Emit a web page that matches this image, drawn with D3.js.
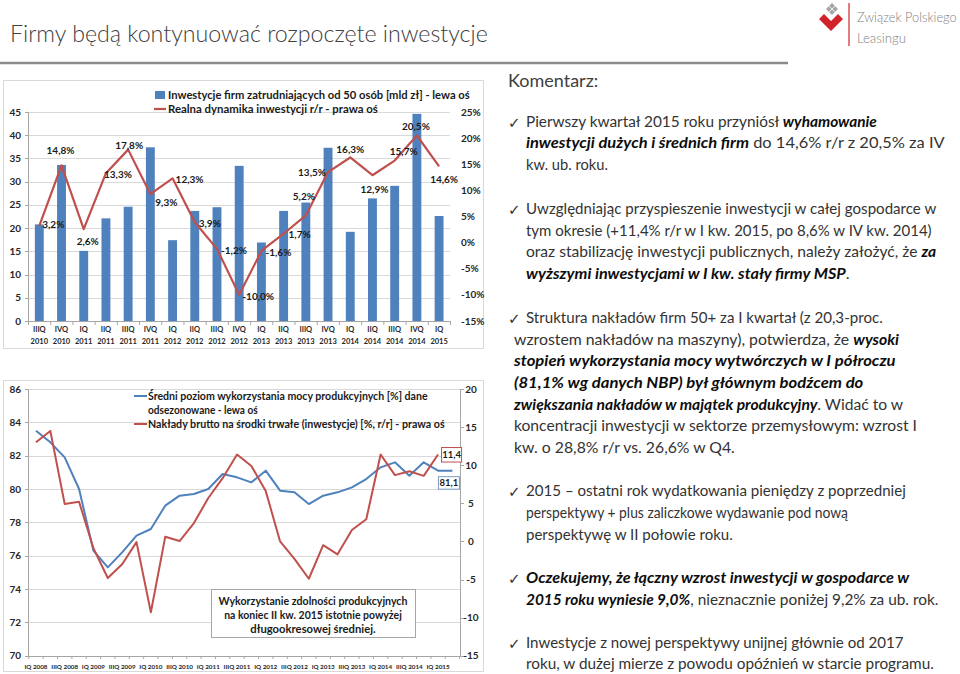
<!DOCTYPE html>
<html><head><meta charset="utf-8">
<script src="https://cdn.jsdelivr.net/npm/d3@7"></script>
<style>
html,body{margin:0;padding:0;background:#fff;}
svg{display:block;font-family:Lato,"Open Sans",sans-serif;}
</style></head><body>
<svg id="c" width="960" height="674"></svg>
<script>
// ---------- DATA ----------
const topCategories = ["IIIQ 2010","IVQ 2010","IQ 2011","IIQ 2011","IIIQ 2011","IVQ 2011","IQ 2012","IIQ 2012","IIIQ 2012","IVQ 2012","IQ 2013","IIQ 2013","IIIQ 2013","IVQ 2013","IQ 2014","IIQ 2014","IIIQ 2014","IVQ 2014","IQ 2015"];
const investments = [20.8,33.6,15.1,22.1,24.6,37.4,17.4,23.7,24.5,33.4,16.9,23.7,25.5,37.3,19.2,26.4,29.1,44.6,22.6];
const realGrowth = [3.2,14.8,2.6,13.3,17.8,9.3,12.3,3.9,-1.2,-10.0,-1.6,1.7,5.2,13.5,16.3,12.9,15.7,20.5,14.6];
const topLeftTicks = [0,5,10,15,20,25,30,35,40,45];
const topRightTicks = [-15,-10,-5,0,5,10,15,20,25];
const topLegend = ["Inwestycje firm zatrudniających od 50 osób [mld zł] - lewa oś","Realna dynamika inwestycji r/r - prawa oś"];

const bottomCategories = ["IQ 2008","IIQ 2008","IIIQ 2008","IVQ 2008","IQ 2009","IIQ 2009","IIIQ 2009","IVQ 2009","IQ 2010","IIQ 2010","IIIQ 2010","IVQ 2010","IQ 2011","IIQ 2011","IIIQ 2011","IVQ 2011","IQ 2012","IIQ 2012","IIIQ 2012","IVQ 2012","IQ 2013","IIQ 2013","IIIQ 2013","IVQ 2013","IQ 2014","IIQ 2014","IIIQ 2014","IVQ 2014","IQ 2015","IIQ 2015"];
const capacityUtil = [83.5,82.8,81.9,80.0,76.3,75.3,76.2,77.2,77.6,79.0,79.6,79.7,80.0,80.9,80.7,80.4,81.1,79.9,79.8,79.1,79.6,79.8,80.1,80.6,81.3,81.6,80.8,81.6,81.1,81.1];
const grossInvestment = [13.0,14.5,4.9,5.2,-0.9,-4.8,-3.0,-0.1,-9.3,0.6,0.05,2.4,5.7,8.3,11.4,9.9,6.6,0.0,-2.3,-4.9,-0.5,-1.7,1.5,2.9,11.4,8.7,9.2,8.6,11.4];
const bottomLeftTicks = [70,72,74,76,78,80,82,84,86];
const bottomRightTicks = [-15,-10,-5,0,5,10,15,20];
const bottomLegend = ["Średni poziom wykorzystania mocy produkcyjnych [%] dane","odsezonowane - lewa oś","Nakłady brutto na środki trwałe (inwestycje) [%, r/r] - prawa oś"];
const noteLines = ["Wykorzystanie zdolności produkcyjnych","na koniec II kw. 2015 istotnie powyżej","długookresowej średniej."];

// label placement (offset of label centre from its point), layout only
const growthLabelOffsets = [[14,-1],[-1,-15],[4,12],[12,1],[1,-4],[16,8],[17,1],[15,1],[17,2],[19,2],[17,2],[16,1],[-2,-19],[-16,0],[0,-8],[2,14],[9,-9],[-1,-9],[5,13]];

const BLUE = "#4F81BD", RED = "#C0504D", GRID = "#D9D9D9", AX = "#A6A6A6";
const svg = d3.select("#c");
const fmt = v => d3.format(".1f")(v).replace(".", ",").replace("−","-");

function fitX(sel, target, ax) {
  const w = sel.node().getBBox().width;
  if (!w) return;
  const k = target / w;
  sel.attr("transform", `translate(${ax},0) scale(${k},1) translate(${-ax},0)`);
}

// ---------- HEADER ----------
const title = svg.append("text").attr("x", 10).attr("y", 42).attr("font-size", 23)
  .attr("font-weight", 300).attr("fill", "#404040").text("Firmy będą kontynuować rozpoczęte inwestycje");
fitX(title, 478, 10);
svg.append("line").attr("x1", 0).attr("x2", 788).attr("y1", 63).attr("y2", 63).attr("stroke", "#8C8C8C").attr("stroke-width", 2.5);

// logo
const logo = svg.append("g");
logo.append("path").attr("d", "M832,3 L838,9 L832,15 L826,9 Z").attr("fill", "#A6A6A6");
logo.append("path").attr("d", "M829,6 L835,12 M835,6 L829,12").attr("stroke", "#fff").attr("stroke-width", 0.8);
logo.append("path").attr("d", "M819,19 L824,14 L831,21 L838,14 L843,19 L831,31 Z").attr("fill", "#D2232A");
logo.append("line").attr("x1", 849).attr("x2", 849).attr("y1", 3).attr("y2", 46).attr("stroke", "#D2232A").attr("stroke-width", 1.2);
const lg1 = logo.append("text").attr("x", 857).attr("y", 22).attr("font-size", 14).attr("font-weight", 300).attr("fill", "#808080").text("Związek Polskiego");
fitX(lg1, 100, 857);
const lg2 = logo.append("text").attr("x", 857).attr("y", 43).attr("font-size", 14).attr("font-weight", 300).attr("fill", "#808080").text("Leasingu");
fitX(lg2, 49, 857);

// ---------- TOP CHART ----------
svg.append("rect").attr("x", 3.5).attr("y", 80.5).attr("width", 480).attr("height", 268).attr("fill", "#fff").attr("stroke", GRID);
const xT = d3.scaleBand().domain(topCategories).range([28.2, 450.2]).paddingInner(0.6).paddingOuter(0.3);
const yL = d3.scaleLinear().domain([0, 45]).range([321, 112]);
const yR = d3.scaleLinear().domain([-15, 25]).range([321, 112]);
const cx = c => xT(c) + xT.bandwidth() / 2;
const gT = svg.append("g");
gT.selectAll(".gl").data(topLeftTicks.filter(t => t > 0)).join("line")
  .attr("x1", 28.5).attr("x2", 450).attr("y1", d => Math.round(yL(d)) + 0.5).attr("y2", d => Math.round(yL(d)) + 0.5)
  .attr("stroke", GRID);
gT.selectAll(".bar").data(investments).join("rect")
  .attr("x", (d, i) => xT(topCategories[i])).attr("width", xT.bandwidth())
  .attr("y", d => yL(d)).attr("height", d => yL(0) - yL(d)).attr("fill", BLUE);
// axes
gT.append("line").attr("x1", 28.5).attr("x2", 28.5).attr("y1", 112).attr("y2", 321).attr("stroke", AX);
gT.append("line").attr("x1", 28).attr("x2", 450.5).attr("y1", 321.5).attr("y2", 321.5).attr("stroke", AX);
gT.selectAll(".tk").data(d3.range(topCategories.length + 1)).join("line")
  .attr("x1", i => 28.2 + i * xT.step() + 0.3).attr("x2", i => 28.2 + i * xT.step() + 0.3)
  .attr("y1", 321).attr("y2", 325).attr("stroke", AX);
gT.selectAll(".ltk").data(topLeftTicks).join("line")
  .attr("x1", 25).attr("x2", 28.5).attr("y1", d => Math.round(yL(d)) + 0.5).attr("y2", d => Math.round(yL(d)) + 0.5).attr("stroke", AX);
gT.selectAll(".ll").data(topLeftTicks).join("text")
  .attr("x", 21).attr("y", d => yL(d) + 3.5).attr("text-anchor", "end").attr("font-size", 10).attr("font-weight", 700)
  .attr("fill", "#262626").text(d => d);
gT.selectAll(".rl").data(topRightTicks).join("text")
  .attr("x", 461).attr("y", d => yR(d) + 3.5).attr("font-size", 10).attr("font-weight", 700)
  .attr("fill", "#262626").text(d => d + "%");
const xl = gT.selectAll(".xl").data(topCategories).join("text")
  .attr("text-anchor", "middle").attr("font-size", 7.5).attr("font-weight", 700).attr("fill", "#262626");
xl.append("tspan").attr("x", d => cx(d)).attr("y", 332).text(d => d.split(" ")[0]);
xl.append("tspan").attr("x", d => cx(d)).attr("y", 344).text(d => d.split(" ")[1]);
// line
gT.append("path").datum(realGrowth)
  .attr("d", d3.line().x((d, i) => cx(topCategories[i])).y(d => yR(d)))
  .attr("fill", "none").attr("stroke", RED).attr("stroke-width", 2.2).attr("stroke-linejoin", "round");
gT.selectAll(".dl").data(realGrowth).join("text")
  .attr("x", (d, i) => cx(topCategories[i]) + growthLabelOffsets[i][0])
  .attr("y", (d, i) => yR(d) + growthLabelOffsets[i][1] + 3.5)
  .attr("text-anchor", "middle").attr("font-size", 10).attr("font-weight", 700).attr("fill", "#1a1a1a")
  .text(d => fmt(d) + "%");
// legend
svg.append("rect").attr("x", 155).attr("y", 91).attr("width", 10).attr("height", 8).attr("fill", BLUE);
svg.append("line").attr("x1", 154).attr("x2", 166).attr("y1", 109).attr("y2", 109).attr("stroke", RED).attr("stroke-width", 2.2);
const lt1 = svg.append("text").attr("x", 168).attr("y", 99).attr("font-size", 11.5).attr("font-weight", 700).attr("fill", "#1a1a1a").text(topLegend[0]);
fitX(lt1, 302, 168);
const lt2 = svg.append("text").attr("x", 168).attr("y", 113).attr("font-size", 11.5).attr("font-weight", 700).attr("fill", "#1a1a1a").text(topLegend[1]);
fitX(lt2, 210, 168);

// ---------- BOTTOM CHART ----------
svg.append("rect").attr("x", 3.5).attr("y", 380.5).attr("width", 480).attr("height", 291).attr("fill", "#fff").attr("stroke", GRID);
const xB = d3.scaleBand().domain(bottomCategories).range([28.8, 459.6]);
const bx = c => xB(c) + xB.bandwidth() / 2;
const yB = d3.scaleLinear().domain([70, 86]).range([655.7, 389]);
const yBR = d3.scaleLinear().domain([-15, 20]).range([655.7, 389]);
const gB = svg.append("g");
gB.selectAll(".gl").data(bottomLeftTicks.filter(t => t > 70)).join("line")
  .attr("x1", 29).attr("x2", 460).attr("y1", d => Math.round(yB(d)) + 0.5).attr("y2", d => Math.round(yB(d)) + 0.5)
  .attr("stroke", GRID);
gB.append("line").attr("x1", 28.5).attr("x2", 28.5).attr("y1", 389).attr("y2", 656).attr("stroke", AX);
gB.append("line").attr("x1", 460.5).attr("x2", 460.5).attr("y1", 389).attr("y2", 656).attr("stroke", AX);
gB.append("line").attr("x1", 28).attr("x2", 461).attr("y1", 656.5).attr("y2", 656.5).attr("stroke", AX);
gB.selectAll(".tk").data(d3.range(bottomCategories.length + 1)).join("line")
  .attr("x1", i => 28.8 + i * xB.step()).attr("x2", i => 28.8 + i * xB.step())
  .attr("y1", 656).attr("y2", 659).attr("stroke", AX);
gB.selectAll(".ltk").data(bottomLeftTicks).join("line")
  .attr("x1", 25).attr("x2", 28.5).attr("y1", d => Math.round(yB(d)) + 0.5).attr("y2", d => Math.round(yB(d)) + 0.5).attr("stroke", AX);
gB.selectAll(".rtk").data(bottomRightTicks).join("line")
  .attr("x1", 460.5).attr("x2", 464).attr("y1", d => Math.round(yBR(d)) + 0.5).attr("y2", d => Math.round(yBR(d)) + 0.5).attr("stroke", AX);
gB.selectAll(".ll").data(bottomLeftTicks).join("text")
  .attr("x", 21).attr("y", d => yB(d) + 3.5).attr("text-anchor", "end").attr("font-size", 10).attr("font-weight", 700)
  .attr("fill", "#262626").text(d => d);
gB.selectAll(".rl").data(bottomRightTicks).join("text")
  .attr("x", 471).attr("y", d => yBR(d) + 3.5).attr("text-anchor", "middle").attr("font-size", 10).attr("font-weight", 700)
  .attr("fill", "#262626").text(d => d);
gB.selectAll(".xl").data(bottomCategories.filter((c, i) => i % 2 === 0)).join("text")
  .attr("x", d => bx(d)).attr("y", 669).attr("text-anchor", "middle").attr("font-size", 6.3).attr("font-weight", 700)
  .attr("fill", "#262626").text(d => d);
gB.append("path").datum(capacityUtil)
  .attr("d", d3.line().x((d, i) => bx(bottomCategories[i])).y(d => yB(d)))
  .attr("fill", "none").attr("stroke", BLUE).attr("stroke-width", 2).attr("stroke-linejoin", "round");
gB.append("path").datum(grossInvestment)
  .attr("d", d3.line().x((d, i) => bx(bottomCategories[i])).y(d => yBR(d)))
  .attr("fill", "none").attr("stroke", RED).attr("stroke-width", 2).attr("stroke-linejoin", "round");
// end labels
const lastRi = grossInvestment.length - 1, lastBi = capacityUtil.length - 1;
const rX = bx(bottomCategories[lastRi]), rY = yBR(grossInvestment[lastRi]);
gB.append("rect").attr("x", rX + 3.5).attr("y", rY - 7).attr("width", 20).attr("height", 14.5).attr("fill", "#fff").attr("stroke", RED);
gB.append("text").attr("x", rX + 13.5).attr("y", rY + 3.5).attr("text-anchor", "middle").attr("font-size", 9.5).attr("font-weight", 700).attr("fill", "#1a1a1a").text(fmt(grossInvestment[lastRi]));
const bX = bx(bottomCategories[lastBi]), bY = yB(capacityUtil[lastBi]);
gB.append("rect").attr("x", bX - 14).attr("y", bY + 6).attr("width", 21).attr("height", 12.5).attr("fill", "#fff").attr("stroke", "#7A9CC6");
gB.append("text").attr("x", bX - 3.5).attr("y", bY + 15.8).attr("text-anchor", "middle").attr("font-size", 9.5).attr("font-weight", 700).attr("fill", "#1a1a1a").text(fmt(capacityUtil[lastBi]));
// legend
svg.append("line").attr("x1", 134).attr("x2", 147).attr("y1", 396).attr("y2", 396).attr("stroke", BLUE).attr("stroke-width", 2);
svg.append("line").attr("x1", 134).attr("x2", 147).attr("y1", 424).attr("y2", 424).attr("stroke", RED).attr("stroke-width", 2);
const bl = [[0, 400, 280], [1, 414, 110], [2, 428, 297]];
bl.forEach(([i, y, w]) => {
  const t = svg.append("text").attr("x", 148).attr("y", y).attr("font-size", 11).attr("font-weight", 700).attr("fill", "#1a1a1a").text(bottomLegend[i]);
  fitX(t, w, 148);
});
// annotation
svg.append("rect").attr("x", 211.5).attr("y", 589.5).attr("width", 204).attr("height", 48).attr("fill", "#fff").attr("stroke", "#A6A6A6");
[[601, 189], [615, 178], [629, 126]].forEach(([y, w], i) => {
  const t = svg.append("text").attr("x", 313).attr("y", y + 4).attr("text-anchor", "middle").attr("font-size", 11).attr("font-weight", 700).attr("fill", "#1a1a1a").text(noteLines[i]);
  fitX(t, w, 313);
});

// ---------- COMMENTARY ----------
svg.append("text").attr("x", 508).attr("y", 87).attr("font-size", 18).attr("fill", "#404040").text("Komentarz:");
const paras = [
  {y: 122, lines: [
    [526, 877, [["Pierwszy kwartał 2015 roku przyniósł ", 0], ["wyhamowanie", 1]]],
    [526, 945, [["inwestycji dużych i średnich firm", 1], [" do 14,6% r/r z 20,5% za IV", 0]]],
    [526, 608, [["kw. ub. roku.", 0]]]]},
  {y: 209, lines: [
    [526, 937, [["Uwzględniając przyspieszenie inwestycji w całej gospodarce w", 0]]],
    [526, 932, [["tym okresie (+11,4% r/r w I kw. 2015, po 8,6% w IV kw. 2014)", 0]]],
    [526, 937, [["oraz stabilizację inwestycji publicznych, należy założyć, że ", 0], ["za", 1]]],
    [526, 850, [["wyższymi inwestycjami w I kw. stały firmy MSP", 1], [".", 0]]]]},
  {y: 318, lines: [
    [526, 883, [["Struktura nakładów firm 50+ za I kwartał (z 20,3-proc.", 0]]],
    [514, 900, [["wzrostem nakładów na maszyny), potwierdza, że ", 0], ["wysoki", 1]]],
    [514, 897, [["stopień wykorzystania mocy wytwórczych w I półroczu", 1]]],
    [514, 864, [["(81,1% wg danych NBP) był głównym bodźcem do", 1]]],
    [514, 905, [["zwiększania nakładów w majątek produkcyjny", 1], [". Widać to w", 0]]],
    [514, 917, [["koncentracji inwestycji w sektorze przemysłowym: wzrost I", 0]]],
    [514, 735, [["kw. o 28,8% r/r vs. 26,6% w Q4.", 0]]]]},
  {y: 491, lines: [
    [526, 906, [["2015 – ostatni rok wydatkowania pieniędzy z poprzedniej", 0]]],
    [526, 849, [["perspektywy + plus zaliczkowe wydawanie pod nową", 0]]],
    [526, 733, [["perspektywę w II połowie roku.", 0]]]]},
  {y: 578, lines: [
    [526, 910, [["Oczekujemy, że łączny wzrost inwestycji w gospodarce w", 1]]],
    [526, 939, [["2015 roku wyniesie 9,0%", 1], [", nieznacznie poniżej 9,2% za ub. rok.", 0]]]]},
  {y: 643, lines: [
    [526, 904, [["Inwestycje z nowej perspektywy unijnej głównie od 2017", 0]]],
    [526, 934, [["roku, w dużej mierze z powodu opóźnień w starcie programu.", 0]]]]}
];
const lh = [21.3, 21.7, 21.7, 22, 22, 21];
paras.forEach((p, pi) => {
  svg.append("text").attr("x", 508).attr("y", p.y + 6).attr("font-family", "DejaVu Sans").attr("font-size", 15).attr("fill", "#333").text("✓");
  p.lines.forEach(([x0, x1, parts], li) => {
    const t = svg.append("text").attr("x", x0).attr("y", p.y + 5 + li * lh[pi]).attr("font-size", 14.5);
    parts.forEach(([s, b]) => {
      const ts = t.append("tspan").text(s).attr("fill", b ? "#0d0d0d" : "#333");
      if (b) ts.attr("font-weight", 700).attr("font-style", "italic");
    });
    fitX(t, x1 - x0, x0);
  });
});
</script>
</body></html>
